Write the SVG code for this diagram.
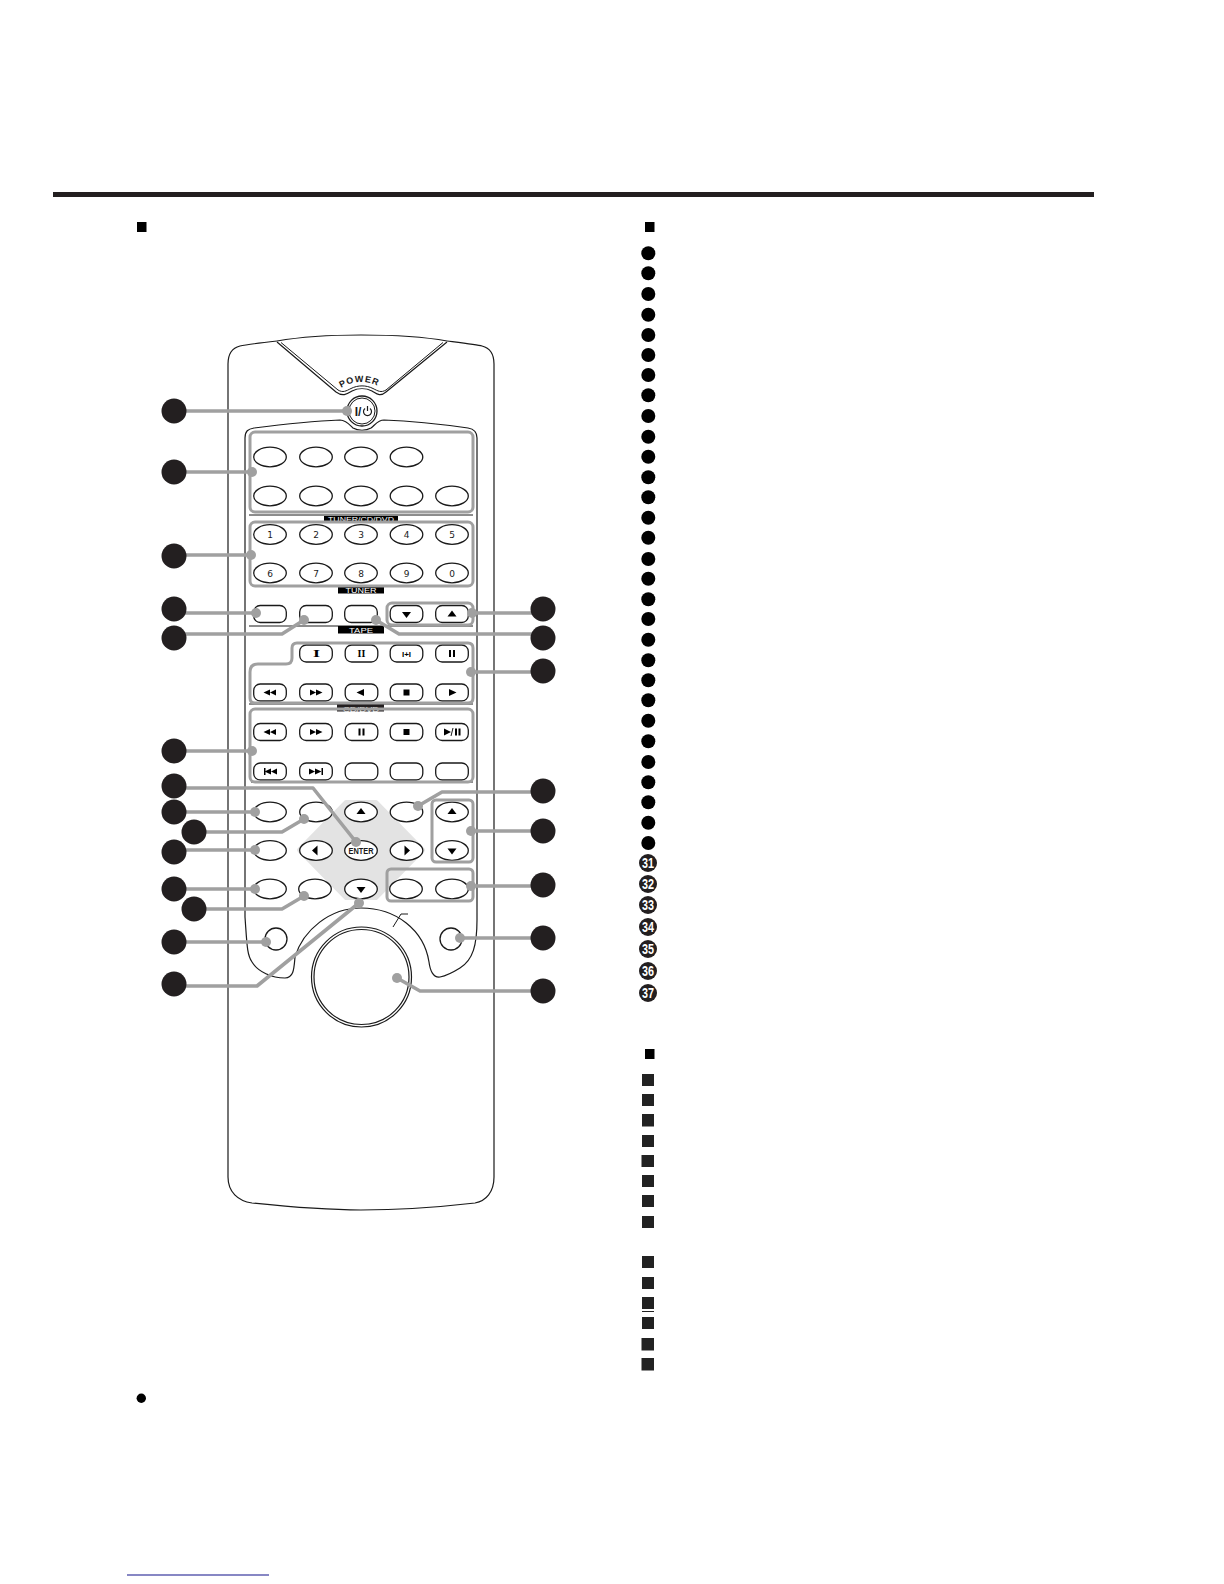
<svg xmlns="http://www.w3.org/2000/svg" xmlns:xlink="http://www.w3.org/1999/xlink" width="1224" height="1584" viewBox="0 0 1224 1584">
<style>
.o{fill:#fff;stroke:#1a1a1a;stroke-width:1.3}
.b{fill:none;stroke:#1a1a1a;stroke-width:1.2}
.t{fill:none;stroke:#1a1a1a;stroke-width:1}
.f{fill:none;stroke:#a0a0a0;stroke-width:3}
.l{fill:none;stroke:#a0a0a0;stroke-width:3.6;stroke-linejoin:round}
.d{fill:#a0a0a0}
.c{fill:#231f20}
.k{fill:#000}
.s{fill:#222}
.n{font-family:"DejaVu Sans",sans-serif;font-size:9px;fill:#1a1a1a;text-anchor:middle}
.w{font-family:"Liberation Sans",Arial,sans-serif;font-size:8px;fill:#fff;text-anchor:middle}
.m{font-family:"Liberation Sans",Arial,sans-serif;font-size:14px;font-weight:bold;fill:#fff;text-anchor:middle}
.p{font-family:"Liberation Sans",Arial,sans-serif;font-size:9px;font-weight:bold;fill:#1a1a1a;letter-spacing:1px}
</style>
<defs>
<ellipse id="ov" class="o" cx="0" cy="0" rx="16.3" ry="9.8"/>
<rect id="rc" class="o" x="-16.3" y="-8.5" width="32.6" height="17" rx="6.5"/>
<path id="rew" class="k" d="M-6.5 0L0 -3V3ZM0 0L6 -3V3Z"/>
<path id="ff" class="k" d="M6.5 0L0 -3V3ZM0 0L-6 -3V3Z"/>
<path id="play" class="k" d="M4.5 0L-3 -3.5V3.500Z"/>
<path id="back" class="k" d="M-4.5 0L3 -3.5V3.500Z"/>
<rect id="stop" class="k" x="-3" y="-3" width="6" height="6"/>
<path id="pause" class="k" d="M-3 -3.5H-1V3.500H-3ZM1 -3.5H3V3.500H1Z"/>
<path id="up" class="k" d="M0 -3.5L4.5 2.500H-4.5Z"/>
<path id="dn" class="k" d="M0 3.500L4.5 -2.5H-4.5Z"/>
<path id="lf" class="k" d="M-3 0L2.500 -5V5Z"/>
<path id="rt" class="k" d="M3 0L-2.5 -5V5Z"/>
<path id="pw" d="M341 388Q361 376 382 388"/>
</defs>
<rect width="1224" height="1584" fill="#fff"/>

<g id="header">
<rect class="c" x="53" y="192" width="1041" height="5"/>
<rect class="k" x="137" y="222" width="9.500" height="10"/>
<rect class="k" x="645" y="222" width="9.500" height="10"/>
<rect class="k" x="645" y="1049" width="9.500" height="10"/>
<circle class="k" cx="141.300" cy="1398.300" r="4.700"/>
<rect x="127" y="1574.500" width="142" height="1" fill="#10108a"/>
</g>

<g id="remote-body">
<path class="b" d="M277 341C250 344 244 345 240 346C232 348 228 354 228 364V1177C228 1192 238 1201 252 1203C290 1207 325 1210 361 1210C400 1210 440 1207 475 1203C486 1201 494 1192 494 1177V364C494 354 490 348 482 346C478 345 470 344 447 341"/>
<path class="b" d="M277 341C300 337 330 335 361 335C392 335 425 337 447 341"/>
<path class="b" d="M277 342L336 392C343 397 347 394 352 391C358 388 366 388 372 391C377 394 380 397 386 392L447 342"/>
<path class="t" d="M281 342.500L338 390C343 393 346 391 351 388.500C358 385 366 385 373 388.500C378 391 381 393 386 390L443 342.500"/>
<path class="b" d="M245 917V438C245 431 248 429 254 428C285 424 315 421 340 420C346 420 350 425 353 428C358 431 366 431 371 428C375 425 378 420 384 420C410 421 440 424 468 428C474 429 477 432 477 438V920C477 945 473 960 460 968C452 973 445 976 440 977C433 978 430 970 429 962C424 930 396 908 361 908C330 908 303 930 295 957C294 968 294 978 285 978C272 978 258 972 252 962C247 955 247 945 245 917Z"/>
<path id="pad" d="M346 802H376L423 850L376 898H346L299 850Z" fill="#e3e3e3" stroke="#e3e3e3" stroke-width="4" stroke-linejoin="round"/>
<path class="t" d="M249 515H473M249 626H473M249 704H473M251 782H473"/>
<path class="t" d="M393 927L401 914H408"/>
</g>

<g id="section-labels">
<rect class="k" x="324" y="516" width="74" height="6"/><text class="w" x="361" y="522" textLength="66" lengthAdjust="spacingAndGlyphs">TUNER/CD/DVD</text>
<rect class="k" x="338" y="586" width="46" height="7.500"/><text class="w" x="361" y="592.800" textLength="31" lengthAdjust="spacingAndGlyphs">TUNER</text>
<rect class="k" x="338" y="626" width="46" height="7.500"/><text class="w" x="361" y="632.800" textLength="24" lengthAdjust="spacingAndGlyphs">TAPE</text>
<rect class="c" x="337" y="704" width="47" height="7.500"/><text class="w" x="361" y="712" textLength="36" lengthAdjust="spacingAndGlyphs">CD/DVD</text>
<text class="p"><textPath href="#pw" xlink:href="#pw" startOffset="0">POWER</textPath></text>
</g>

<g id="power-button">
<circle class="o" cx="362" cy="411" r="15"/><circle class="t" cx="362" cy="411" r="13"/>
<text x="358" y="415.500" font-family="Liberation Sans,Arial,sans-serif" font-size="12" font-weight="bold" fill="#1a1a1a" text-anchor="middle">I/</text>
<path class="b" d="M365 408.500A4 4 0 1 0 370 408.500M367.500 406V411"/>
</g>

<g id="function-buttons">
<use href="#ov" xlink:href="#ov" x="270" y="457"/><use href="#ov" xlink:href="#ov" x="316" y="457"/><use href="#ov" xlink:href="#ov" x="361" y="457"/><use href="#ov" xlink:href="#ov" x="406.500" y="457"/>
<use href="#ov" xlink:href="#ov" x="270" y="496"/><use href="#ov" xlink:href="#ov" x="316" y="496"/><use href="#ov" xlink:href="#ov" x="361" y="496"/><use href="#ov" xlink:href="#ov" x="406.500" y="496"/><use href="#ov" xlink:href="#ov" x="452" y="496"/>
</g>

<g id="number-buttons">
<use href="#ov" xlink:href="#ov" x="270" y="534.500"/><use href="#ov" xlink:href="#ov" x="316" y="534.500"/><use href="#ov" xlink:href="#ov" x="361" y="534.500"/><use href="#ov" xlink:href="#ov" x="406.500" y="534.500"/><use href="#ov" xlink:href="#ov" x="452" y="534.500"/>
<use href="#ov" xlink:href="#ov" x="270" y="573"/><use href="#ov" xlink:href="#ov" x="316" y="573"/><use href="#ov" xlink:href="#ov" x="361" y="573"/><use href="#ov" xlink:href="#ov" x="406.500" y="573"/><use href="#ov" xlink:href="#ov" x="452" y="573"/>
<text class="n" x="270" y="538">1</text><text class="n" x="316" y="538">2</text><text class="n" x="361" y="538">3</text><text class="n" x="406.500" y="538">4</text><text class="n" x="452" y="538">5</text>
<text class="n" x="270" y="576.500">6</text><text class="n" x="316" y="576.500">7</text><text class="n" x="361" y="576.500">8</text><text class="n" x="406.500" y="576.500">9</text><text class="n" x="452" y="576.500">0</text>
</g>

<g id="tuner-buttons">
<use href="#rc" xlink:href="#rc" x="270" y="614"/><use href="#rc" xlink:href="#rc" x="316" y="614"/><use href="#rc" xlink:href="#rc" x="361" y="614"/><use href="#rc" xlink:href="#rc" x="406.500" y="614"/><use href="#rc" xlink:href="#rc" x="452" y="614"/>
<use href="#dn" xlink:href="#dn" x="406.500" y="614.500"/><use href="#up" xlink:href="#up" x="452" y="614"/>
</g>

<g id="tape-buttons">
<use href="#rc" xlink:href="#rc" x="316" y="653.500"/><use href="#rc" xlink:href="#rc" x="361.500" y="653.500"/><use href="#rc" xlink:href="#rc" x="406.500" y="653.500"/><use href="#rc" xlink:href="#rc" x="452" y="653.500"/>
<use href="#rc" xlink:href="#rc" x="270" y="692.500"/><use href="#rc" xlink:href="#rc" x="316" y="692.500"/><use href="#rc" xlink:href="#rc" x="361.500" y="692.500"/><use href="#rc" xlink:href="#rc" x="406.500" y="692.500"/><use href="#rc" xlink:href="#rc" x="452" y="692.500"/>
<text x="316.500" y="657" font-family="Liberation Serif,serif" font-size="10" font-weight="bold" fill="#000" text-anchor="middle" textLength="7" lengthAdjust="spacingAndGlyphs">I</text>
<text x="361.500" y="657" font-family="Liberation Serif,serif" font-size="10" font-weight="bold" fill="#000" text-anchor="middle">II</text>
<text x="406.500" y="656.500" font-family="Liberation Sans,sans-serif" font-size="8" font-weight="bold" fill="#000" text-anchor="middle">I+I</text>
<use href="#pause" xlink:href="#pause" x="452" y="653.500"/>
<use href="#rew" xlink:href="#rew" x="270" y="692.500"/><use href="#ff" xlink:href="#ff" x="316" y="692.500"/><use href="#back" xlink:href="#back" x="361" y="692.500"/><use href="#stop" xlink:href="#stop" x="406.500" y="692.500"/><use href="#play" xlink:href="#play" x="452" y="692.500"/>
</g>

<g id="cd-buttons">
<use href="#rc" xlink:href="#rc" x="270" y="732"/><use href="#rc" xlink:href="#rc" x="316" y="732"/><use href="#rc" xlink:href="#rc" x="361.500" y="732"/><use href="#rc" xlink:href="#rc" x="406.500" y="732"/><use href="#rc" xlink:href="#rc" x="452" y="732"/>
<use href="#rc" xlink:href="#rc" x="270" y="771.500"/><use href="#rc" xlink:href="#rc" x="316" y="771.500"/><use href="#rc" xlink:href="#rc" x="361.500" y="771.500"/><use href="#rc" xlink:href="#rc" x="406.500" y="771.500"/><use href="#rc" xlink:href="#rc" x="452" y="771.500"/>
<use href="#rew" xlink:href="#rew" x="270" y="732"/><use href="#ff" xlink:href="#ff" x="316" y="732"/><use href="#pause" xlink:href="#pause" x="361.500" y="732"/><use href="#stop" xlink:href="#stop" x="406.500" y="732"/>
<path class="k" d="M444 728.500L451 732L444 735.500Z"/>
<path class="t" d="M451 736L453 728"/>
<path class="k" d="M455 728.500H457V735.500H455ZM458.500 728.500H460.500V735.500H458.500Z"/>
<path class="k" d="M264 768H265.500V775H264Z"/><use href="#rew" xlink:href="#rew" x="271" y="771.500"/>
<path class="k" d="M321.500 768H323V775H321.500Z"/><use href="#ff" xlink:href="#ff" x="315" y="771.500"/>
</g>

<g id="nav-buttons">
<use href="#ov" xlink:href="#ov" x="270" y="812"/><use href="#ov" xlink:href="#ov" x="316" y="812"/><use href="#ov" xlink:href="#ov" x="361" y="812"/><use href="#ov" xlink:href="#ov" x="406.500" y="812"/><use href="#ov" xlink:href="#ov" x="452" y="812"/>
<use href="#ov" xlink:href="#ov" x="270" y="850.500"/><use href="#ov" xlink:href="#ov" x="316" y="850.500"/><use href="#ov" xlink:href="#ov" x="361" y="850.500"/><use href="#ov" xlink:href="#ov" x="406.500" y="850.500"/><use href="#ov" xlink:href="#ov" x="452" y="850.500"/>
<use href="#ov" xlink:href="#ov" x="270" y="889"/><use href="#ov" xlink:href="#ov" x="315" y="889"/><use href="#ov" xlink:href="#ov" x="361" y="889"/><use href="#ov" xlink:href="#ov" x="406" y="889"/><use href="#ov" xlink:href="#ov" x="452" y="889"/>
<use href="#up" xlink:href="#up" x="361" y="811.500"/><use href="#lf" xlink:href="#lf" x="315" y="850.500"/><use href="#rt" xlink:href="#rt" x="407" y="850.500"/><use href="#dn" xlink:href="#dn" x="361" y="889.500"/>
<use href="#up" xlink:href="#up" x="452" y="811.500"/><use href="#dn" xlink:href="#dn" x="452" y="851"/>
<text x="361" y="853.800" font-family="Liberation Sans,sans-serif" font-size="8.500" font-weight="bold" fill="#1a1a1a" text-anchor="middle" textLength="25" lengthAdjust="spacingAndGlyphs">ENTER</text>
<circle class="o" cx="276" cy="939" r="11"/><circle class="o" cx="451" cy="939" r="11"/>
</g>

<g id="volume-dial">
<circle class="b" cx="361.500" cy="977" r="50"/><circle class="b" cx="361.500" cy="977" r="47.500"/>
</g>

<g id="frames">
<rect class="f" x="250" y="432" width="223" height="80" rx="5"/>
<rect class="f" x="250" y="522" width="223" height="64" rx="5"/>
<rect class="f" x="387" y="603" width="86" height="22" rx="5"/>
<path class="f" d="M292 648Q292 643 297 643H468Q473 643 473 648V698Q473 703 468 703H255Q250 703 250 698V672Q250 664 258 664H286Q292 664 292 658Z"/>
<rect class="f" x="250" y="709" width="223" height="73" rx="5"/>
<rect class="f" x="432" y="800" width="41" height="62" rx="4"/>
<rect class="f" x="387" y="869" width="86" height="32" rx="4"/>
</g>

<g id="connectors">
<path class="l" d="M174 411H347M174 472H252M174 555H251M174 613H256M174 634H282L304 620M543 613H472M543 634H399L376 620M543 672H471M174 751H252M174 788H313L356 842M174 812H255M194 832H282L304 819M174 850H255M174 889H255M194 909H282L304 896M174 942H266M174 986H257L359 903M543 792H442L418 806M543 831H471M543 886H471M543 938H460M543 991H420L397 978"/>
<g class="d">
<circle cx="347" cy="411" r="5"/><circle cx="252" cy="472" r="5"/><circle cx="251" cy="555" r="5"/><circle cx="256" cy="613" r="5"/><circle cx="304" cy="620" r="5"/><circle cx="472" cy="613" r="5"/><circle cx="376" cy="620" r="5"/><circle cx="471" cy="672" r="5"/><circle cx="252" cy="751" r="5"/><circle cx="356" cy="842" r="5"/><circle cx="255" cy="812" r="5"/><circle cx="304" cy="819" r="5"/><circle cx="255" cy="850" r="5"/><circle cx="255" cy="889" r="5"/><circle cx="304" cy="896" r="5"/><circle cx="266" cy="942" r="5"/><circle cx="359" cy="903" r="5"/><circle cx="418" cy="806" r="5"/><circle cx="471" cy="831" r="5"/><circle cx="471" cy="886" r="5"/><circle cx="460" cy="938" r="5"/><circle cx="397" cy="978" r="5"/>
</g>
</g>

<g id="callouts">
<g class="c">
<circle cx="174" cy="411" r="12.500"/><circle cx="174" cy="472" r="12.500"/><circle cx="174" cy="556" r="12.500"/><circle cx="174" cy="609" r="12.500"/><circle cx="174" cy="638" r="12.500"/><circle cx="174" cy="751" r="12.500"/><circle cx="174" cy="786" r="12.500"/><circle cx="174" cy="812" r="12.500"/><circle cx="194" cy="832" r="12.500"/><circle cx="174" cy="852" r="12.500"/><circle cx="174" cy="889" r="12.500"/><circle cx="194" cy="909" r="12.500"/><circle cx="174" cy="942" r="12.500"/><circle cx="174" cy="984" r="12.500"/>
<circle cx="543" cy="609" r="12.500"/><circle cx="543" cy="638" r="12.500"/><circle cx="543" cy="671" r="12.500"/><circle cx="543" cy="791" r="12.500"/><circle cx="543" cy="831" r="12.500"/><circle cx="543" cy="885" r="12.500"/><circle cx="543" cy="938" r="12.500"/><circle cx="543" cy="991" r="12.500"/>
</g>
</g>

<g id="list-bullets" class="k">
<circle cx="648.300" cy="253.300" r="7"/><circle cx="648.300" cy="273.300" r="7"/><circle cx="648.300" cy="294" r="7"/><circle cx="648.300" cy="314.700" r="7"/><circle cx="648.300" cy="335" r="7"/><circle cx="648.300" cy="355" r="7"/><circle cx="648.300" cy="375" r="7"/><circle cx="648.300" cy="395.300" r="7"/><circle cx="648.300" cy="416" r="7"/><circle cx="648.300" cy="436.700" r="7"/><circle cx="648.300" cy="456.700" r="7"/><circle cx="648.300" cy="477.300" r="7"/><circle cx="648.300" cy="497.300" r="7"/><circle cx="648.300" cy="517.700" r="7"/><circle cx="648.300" cy="537.700" r="7"/><circle cx="648.300" cy="559" r="7"/><circle cx="648.300" cy="578.700" r="7"/><circle cx="648.300" cy="599.300" r="7"/><circle cx="648.300" cy="619" r="7"/><circle cx="648.300" cy="639.700" r="7"/><circle cx="648.300" cy="660.300" r="7"/><circle cx="648.300" cy="680.300" r="7"/><circle cx="648.300" cy="700.300" r="7"/><circle cx="648.300" cy="720.700" r="7"/><circle cx="648.300" cy="741.300" r="7"/><circle cx="648.300" cy="762" r="7"/><circle cx="648.300" cy="782.300" r="7"/><circle cx="648.300" cy="802.300" r="7"/><circle cx="648.300" cy="822.700" r="7"/><circle cx="648.300" cy="843" r="7"/>
</g>

<g id="list-numbers">
<g class="c"><circle cx="648" cy="863" r="9"/><circle cx="648" cy="884" r="9"/><circle cx="648" cy="905" r="9"/><circle cx="648" cy="927" r="9"/><circle cx="648" cy="949" r="9"/><circle cx="648" cy="971" r="9"/><circle cx="648" cy="993" r="9"/></g>
<text class="m" x="648" y="868" textLength="12" lengthAdjust="spacingAndGlyphs">31</text>
<text class="m" x="648" y="889" textLength="12" lengthAdjust="spacingAndGlyphs">32</text>
<text class="m" x="648" y="910" textLength="12" lengthAdjust="spacingAndGlyphs">33</text>
<text class="m" x="648" y="932" textLength="12" lengthAdjust="spacingAndGlyphs">34</text>
<text class="m" x="648" y="954" textLength="12" lengthAdjust="spacingAndGlyphs">35</text>
<text class="m" x="648" y="976" textLength="12" lengthAdjust="spacingAndGlyphs">36</text>
<text class="m" x="648" y="998" textLength="12" lengthAdjust="spacingAndGlyphs">37</text>
</g>

<g id="list-squares" class="s">
<rect x="642" y="1074" width="12" height="12"/><rect x="642" y="1094" width="12" height="12"/><rect x="642" y="1114" width="12" height="12.500"/><rect x="642" y="1135" width="12" height="12"/><rect x="641.500" y="1155" width="12.500" height="12"/><rect x="642" y="1175" width="12" height="12"/><rect x="642" y="1195" width="12" height="12"/><rect x="642" y="1216" width="12" height="12"/><rect x="642" y="1256" width="12" height="12"/><rect x="642" y="1277" width="12" height="12"/><rect x="642" y="1297" width="12" height="12"/><rect x="642" y="1311" width="12" height="1"/><rect x="642" y="1317" width="12" height="12"/><rect x="641.500" y="1338" width="12.500" height="12.500"/><rect x="641.500" y="1358" width="12.500" height="12.500"/>
</g>
</svg>
